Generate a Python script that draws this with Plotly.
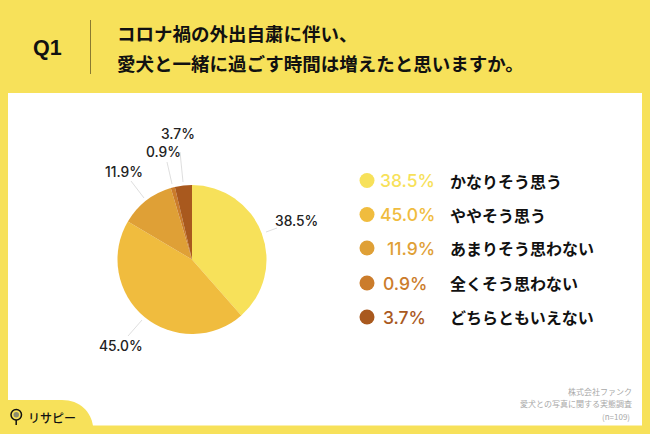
import plotly.graph_objects as go

categories = ["かなりそう思う", "ややそう思う", "あまりそう思わない", "全くそう思わない", "どちらともいえない"]
values = [38.5, 45.0, 11.9, 0.9, 3.7]
colors = ["#F7E15A", "#F0BC3E", "#DFA036", "#CB7C2B", "#A9591E"]
value_labels = ["38.5%", "45.0%", "11.9%", "0.9%", "3.7%"]
pie_label_pos = [(296, 220.5), (120.5, 345.5), (124, 172), (163.5, 152), (177.5, 134)]
leader_lines = [((266, 232), (277, 228)), ((142, 320), (128, 336)), ((144, 198), (131, 181)),
                ((172, 184), (167, 162)), ((183, 182), (180, 152))]
title_lines = ["コロナ禍の外出自粛に伴い、", "愛犬と一緒に過ごす時間は増えたと思いますか。"]
source_lines = ["株式会社ファンク", "愛犬との写真に関する実態調査", "(n=109)"]

W, H = 650, 434
BG = "#F7E15A"
JP = "Noto Sans CJK JP"
LAT = "Liberation Sans"
NUM = "Inter"
cx, cy, r = 192, 259.5, 74.5
row_y = [180.5, 214.5, 248, 283, 317]

fig = go.Figure()
fig.add_trace(go.Pie(
    labels=categories, values=values, sort=False, direction="clockwise", rotation=0,
    marker=dict(colors=colors, line=dict(width=0)), textinfo="none", showlegend=False,
    hoverinfo="label+percent",
    domain=dict(x=[(cx - r) / W, (cx + r) / W], y=[1 - (cy + r) / H, 1 - (cy - r) / H]),
))
fig.add_trace(go.Scatter(
    x=[367] * len(row_y), y=row_y, mode="markers", showlegend=False,
    marker=dict(size=15, color=colors, line=dict(width=0)), hoverinfo="skip",
))

shapes = [
    dict(type="rect", x0=8, x1=642, y0=93, y1=425.5, fillcolor="#FFFFFF", line_width=0, layer="below"),
    dict(type="line", x0=90.5, x1=90.5, y0=20, y1=74, line=dict(color="#8A7A30", width=1)),
    dict(type="path", path="M 0 400 L 62 400 C 80 400 91 412 93 426 L 93 434 L 0 434 Z",
         fillcolor=BG, line_width=0),
]
for (a, b) in leader_lines:
    shapes.append(dict(type="line", x0=a[0], y0=a[1], x1=b[0], y1=b[1], line=dict(color="#D5D5D5", width=0.8)))
# logo pin
shapes += [
    dict(type="circle", x0=11, x1=21.5, y0=409.5, y1=420, line=dict(color="#111111", width=1.5), fillcolor=BG),
    dict(type="circle", x0=13.5, x1=19, y0=412, y1=417.5, fillcolor="#8C8C70", line_width=0),
    dict(type="line", x0=16.2, x1=16.2, y0=420, y1=425, line=dict(color="#111111", width=1.5)),
]

ann = []
def T(x, y, s, size, color="#111111", fam=JP, weight=400, anchor="center"):
    ann.append(dict(x=x, y=y, text=s, showarrow=False, xref="x", yref="y", xanchor=anchor, yanchor="middle",
                    font=dict(family=fam, size=size, color=color, weight=weight)))

T(47.5, 47.5, "Q1", 21.5, fam=LAT, weight=700)
T(114.5, 33, title_lines[0], 18.5, weight=700, anchor="left")
T(114.5, 63, title_lines[1], 18.5, weight=700, anchor="left")
for (x, y), s in zip(pie_label_pos, value_labels):
    T(x, y, s, 13.8, color="#222222", fam=NUM, weight=500)
for y, s, c, cat in zip(row_y, value_labels, colors, categories):
    T(437 if len(s) == 5 else 381, y, s, 17.5, color=c, fam=NUM, weight=500, anchor="right" if len(s) == 5 else "left")
    T(448, y, cat, 16, weight=700, anchor="left")
for y, s in zip([391, 403.5, 416], source_lines):
    T(634 if s != "(n=109)" else 632, y, s, 8, color="#A8A8A8", anchor="right")
T(52, 417.5, "リサピー", 12, weight=500)

fig.update_layout(
    width=W, height=H, margin=dict(l=0, r=0, t=0, b=0), paper_bgcolor=BG, plot_bgcolor="rgba(0,0,0,0)",
    xaxis=dict(range=[0, W], visible=False, fixedrange=True),
    yaxis=dict(range=[H, 0], visible=False, fixedrange=True),
    shapes=shapes, annotations=ann,
)
fig.write_html("out.html", config=dict(displayModeBar=False), post_script="document.body.style.margin='0';")
